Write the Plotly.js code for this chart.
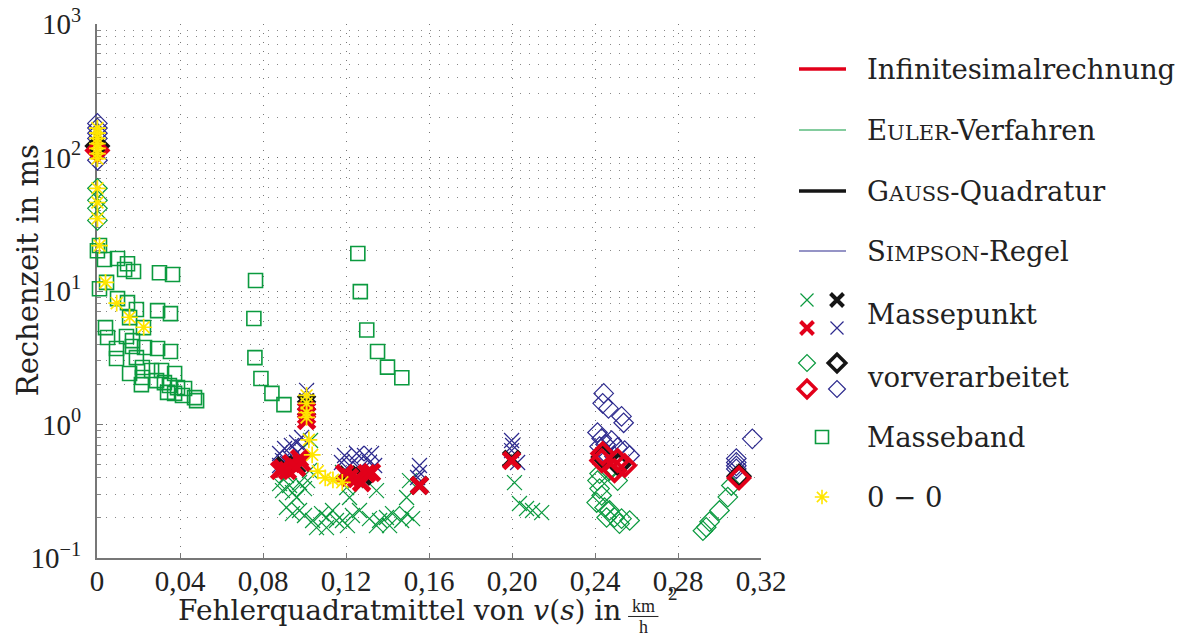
<!DOCTYPE html>
<html>
<head>
<meta charset="utf-8">
<script src="https://cdn.plot.ly/plotly-3.0.1.min.js"></script>
<style>
  html, body { margin: 0; padding: 0; background: #fff; }
  #chart { width: 1183px; height: 639px; }
</style>
</head>
<body>
<div id="chart"></div>
<script>
// ---- axis ticks ----
const xTickVals = [0, 0.04, 0.08, 0.12, 0.16, 0.20, 0.24, 0.28, 0.32];
const xTickText = ['0', '0,04', '0,08', '0,12', '0,16', '0,20', '0,24', '0,28', '0,32'];
const yTickVals = [0.1, 1, 10, 100, 1000];
const yTickText = ['10<sup>−1</sup>', '10<sup>0</sup>', '10<sup>1</sup>', '10<sup>2</sup>', '10<sup>3</sup>'];

// ---- Masseband (Euler) ----
const mbX = [0.0012,0.0002,0.0036,0.0099,0.0147,0.0133,0.0176,0.0301,0.0364,0.0046,0.0012,0.0099,0.0147,0.0190,0.0292,0.0354,0.0157,0.0224,0.0041,0.0051,0.0142,0.0171,0.0094,0.0171,0.0229,0.0292,0.0354,0.0094,0.0190,0.0157,0.0219,0.0263,0.0311,0.0374,0.0219,0.0214,0.0287,0.0325,0.0349,0.0388,0.0422,0.0340,0.0374,0.0412,0.0470,0.0480,
  0.0764,0.0756,0.0761,0.0790,0.0843,0.0901,
  0.1257,0.1269,0.1300,0.1352,0.1400,0.1469];
const mbY = [21.9,20.0,17.2,17.5,16.0,14.5,14.0,13.7,13.3,11.6,10.4,8.77,8.19,7.26,7.13,6.77,6.32,5.32,5.32,4.48,4.56,4.25,3.71,3.84,3.77,3.71,3.52,3.12,3.17,2.41,2.67,2.54,2.54,2.41,2.25,1.99,2.13,2.06,1.96,1.89,1.86,1.74,1.71,1.65,1.59,1.51,
  11.97,6.22,3.17,2.21,1.71,1.41,
  19.1,9.89,5.11,3.52,2.69,2.24];

// ---- Massepunkt ----
const eulerMpX = [0.0880,0.0928,0.0976,0.1015,0.0894,0.0942,0.1000,0.0962,0.1024,0.0913,0.1029,
  0.0913,0.0942,0.0976,0.1000,0.1039,0.1058,0.1082,0.1106,0.1106,0.1135,0.1154,0.1183,0.1207,0.1231,0.1265,0.1313,0.1347,0.1362,0.1395,0.1410,0.1424,0.1468,0.1492,0.1521,
  0.1203,0.1217,0.1246,0.1347,0.1183,
  0.1506,0.1492,
  0.2012,0.2036,0.2070,0.2099,0.2143];
const eulerMpY = [0.361,0.349,0.367,0.380,0.320,0.309,0.331,0.284,0.452,0.415,0.759,
  0.239,0.215,0.227,0.208,0.191,0.169,0.215,0.201,0.169,0.227,0.191,0.191,0.175,0.208,0.227,0.197,0.175,0.191,0.201,0.175,0.215,0.191,0.215,0.197,
  0.337,0.284,0.380,0.320,0.437,
  0.380,0.284,
  0.367,0.256,0.235,0.227,0.219];

const simpsonMpX = [0.0880,0.0904,0.0937,0.0962,0.0986,0.0894,0.0928,0.0966,0.0880,0.0991,0.0918,0.0952,
  0.1010,0.1010,0.1010,0.1010,
  0.1193,0.1241,0.1289,0.1323,0.1217,0.1265,0.1313,0.1338,0.1178,0.1251,
  0.1554,0.1554,0.1545,
  0.1998,0.2003,0.1998,0.2027];
const simpsonMpY = [0.606,0.661,0.696,0.733,0.799,0.537,0.566,0.618,0.493,0.680,0.510,0.493,
  1.80,1.51,1.27,1.07,
  0.586,0.537,0.586,0.606,0.493,0.468,0.519,0.493,0.519,0.606,
  0.493,0.437,0.401,
  0.759,0.696,0.638,0.519];

const gaussMpX = [0.0904,0.0962,0.1010,0.1010,0.1207,0.1280,0.1554,0.1998];
const gaussMpY = [0.490,0.500,1.45,1.33,0.420,0.410,0.350,0.550];

const infMpX = [0.0894,0.0937,0.0976,0.0918,0.0962,0.0986,0.0880,0.1010,0.1010,0.1010,0.1193,0.1251,0.1299,0.1323,0.1217,0.1275,0.1554,0.1998];
const infMpY = [0.468,0.510,0.556,0.452,0.476,0.519,0.452,1.27,1.17,1.07,0.429,0.394,0.429,0.437,0.401,0.367,0.349,0.537];

// ---- vorverarbeitet ----
const eulerVvX = [0.0002,0.0002,0.0002,0.0002,
  0.2422,0.2412,0.2422,0.2432,0.2408,0.2446,0.2470,0.2456,0.2494,0.2528,0.2567,0.2518,0.2470,0.2509,
  0.3057,0.3040,0.3000,0.2952,0.2936,0.2920];
const eulerVvY = [58.8,47.8,41.6,33.8,
  0.429,0.380,0.331,0.294,0.260,0.239,0.227,0.201,0.201,0.197,0.191,0.181,0.452,0.380,
  0.349,0.286,0.227,0.187,0.170,0.160];

const simpsonVvX = [0.0002,0.0002,0.0002,0.0002,0.0002,
  0.2442,0.2437,0.2465,0.2528,0.2538,0.2412,0.2432,0.2451,0.2422,0.2480,0.2509,0.2543,0.2567,0.2446,0.2494,
  0.3158,0.3081,0.3081,0.3081,0.3081];
const simpsonVvY = [180,166,152,139,95.3,
  1.71,1.44,1.32,1.15,1.03,0.871,0.786,0.708,0.684,0.759,0.673,0.638,0.586,0.617,0.576,
  0.781,0.556,0.520,0.490,0.465];

const gaussVvX = [0.0002,0.2440,0.2515,0.3094];
const gaussVvY = [122,0.570,0.500,0.410];

const infVvX = [0.0002,0.2437,0.2432,0.2509,0.2543,0.2494,0.3094];
const infVvY = [113,0.606,0.537,0.537,0.493,0.452,0.398];

// ---- 0 – 0 ----
const zeroX = [0.0002,0.0002,0.0002,0.0002,0.0002,0.0002,0.0002,0.0002,0.0002,0.0002,0.0012,
  0.0041,0.0095,0.0157,0.0225,
  0.1010,0.1010,0.1010,0.1010,
  0.1021,0.1037,0.1064,0.1100,0.1137,0.1182];
const zeroY = [166,152,139,127,117,107,98,58.8,46.0,34.9,21.9,
  11.6,8.1,6.36,5.35,
  1.65,1.44,1.23,1.13,
  0.768,0.593,0.447,0.398,0.385,0.369];

// ---- colours ----
const RED = '#e2001a', GREEN = '#0b9a3f', BLACK = '#151515', NAVY = '#2d2a8e', YELLOW = '#ffe500';

const thinX = (c) => ({ symbol: 'x-thin-open', size: 15, color: c, line: { color: c, width: 1.2 } });
const boldX = (c) => ({ symbol: 'x-thin-open', size: 16, color: c, line: { color: c, width: 5 } });
const thinD = (c) => ({ symbol: 'diamond-open', size: 15, color: c, line: { color: c, width: 1.2 } });
const boldD = (c) => ({ symbol: 'diamond-open', size: 16, color: c, line: { color: c, width: 3.8 } });
const squareM = { symbol: 'square-open', size: 14, color: GREEN, line: { color: GREEN, width: 1.6 } };
const starM = { symbol: 'asterisk-open', size: 14, color: YELLOW, line: { color: YELLOW, width: 1.7 } };

function pts(x, y, marker) {
  return { type: 'scatter', mode: 'markers', x: x, y: y, marker: marker,
           cliponaxis: false, showlegend: false, hoverinfo: 'x+y' };
}

const traces = [
  pts(mbX, mbY, squareM),
  pts(eulerMpX, eulerMpY, thinX(GREEN)),
  pts(eulerVvX, eulerVvY, thinD(GREEN)),
  pts(simpsonVvX, simpsonVvY, thinD(NAVY)),
  pts(simpsonMpX, simpsonMpY, thinX(NAVY)),
  pts(gaussVvX, gaussVvY, boldD(BLACK)),
  pts(gaussMpX, gaussMpY, boldX(BLACK)),
  pts(infVvX, infVvY, boldD(RED)),
  pts(infMpX, infMpY, boldX(RED)),
  pts(zeroX, zeroY, starM)
];

// ---- key (drawn on an auxiliary pixel-scaled axis pair) ----
const keyLabels = ['Infinitesimalrechnung',
  'E<span style="font-size:21px">ULER</span>-Verfahren',
  'G<span style="font-size:21px">AUSS</span>-Quadratur',
  'S<span style="font-size:21px">IMPSON</span>-Regel',
  'Massepunkt', 'vorverarbeitet', 'Masseband', '0 − 0'];
const keyRowY = [69, 130, 191, 251, 314, 377, 437, 497];
const keyLine = [{ c: RED, w: 3.5 }, { c: GREEN, w: 1.2 }, { c: BLACK, w: 3.5 }, { c: NAVY, w: 1.2 }];
const keyX0 = 799, keyX1 = 846, keyColA = 807, keyColB = 837, keyMid = 822, keyText = 865;

const keyThinX = (c) => ({ symbol: 'x-thin-open', size: 13, color: c, line: { color: c, width: 1.2 } });
const keyBoldX = (c) => ({ symbol: 'x-thin-open', size: 13, color: c, line: { color: c, width: 4 } });
const keyThinD = (c) => ({ symbol: 'diamond-open', size: 13, color: c, line: { color: c, width: 1.2 } });
const keyBoldD = (c) => ({ symbol: 'diamond-open', size: 13.5, color: c, line: { color: c, width: 3.5 } });

function keyMark(x, y, marker) {
  return { type: 'scatter', mode: 'markers', x: [x], y: [y], marker: marker,
           xaxis: 'x2', yaxis: 'y2', showlegend: false, hoverinfo: 'skip', cliponaxis: false };
}
keyLine.forEach((s, i) => {
  traces.push({ type: 'scatter', mode: 'lines', x: [keyX0, keyX1], y: [keyRowY[i], keyRowY[i]],
    line: { color: s.c, width: s.w }, xaxis: 'x2', yaxis: 'y2', showlegend: false, hoverinfo: 'skip' });
});
const rm = keyRowY[4], rv = keyRowY[5];
traces.push(keyMark(keyColA, rm - 14, keyThinX(GREEN)));
traces.push(keyMark(keyColB, rm - 14, keyBoldX(BLACK)));
traces.push(keyMark(keyColA, rm + 14, keyBoldX(RED)));
traces.push(keyMark(keyColB, rm + 14, keyThinX(NAVY)));
traces.push(keyMark(keyColA, rv - 14, keyThinD(GREEN)));
traces.push(keyMark(keyColB, rv - 14, keyBoldD(BLACK)));
traces.push(keyMark(keyColA, rv + 12, keyBoldD(RED)));
traces.push(keyMark(keyColB, rv + 12, keyThinD(NAVY)));
traces.push(keyMark(keyMid, keyRowY[6], { symbol: 'square-open', size: 13, color: GREEN, line: { color: GREEN, width: 1.6 } }));
traces.push(keyMark(keyMid, keyRowY[7], { symbol: 'asterisk-open', size: 12, color: YELLOW, line: { color: YELLOW, width: 1.6 } }));

const TEXT_FONT = 'DejaVu Serif';
const NUM_FONT = 'Liberation Serif';
const TXT = '#222';

const annotations = keyLabels.map((t, i) => ({
  xref: 'x2', yref: 'y2', x: keyText, y: keyRowY[i], text: t, showarrow: false,
  xanchor: 'left', yanchor: 'middle', font: { family: TEXT_FONT, size: 27.5, color: TXT }
}));

// axis titles
annotations.push({ xref: 'paper', yref: 'paper', x: -0.064, y: 0.54, text: 'Rechenzeit in ms',
  textangle: -90, showarrow: false, xanchor: 'center', yanchor: 'middle',
  font: { family: TEXT_FONT, size: 29, color: TXT } });
annotations.push({ xref: 'paper', yref: 'paper', x: 0.4845, y: -0.098,
  text: 'Fehlerquadratmittel von <i>v</i>(<i>s</i>) in', showarrow: false,
  xanchor: 'right', yanchor: 'middle', font: { family: TEXT_FONT, size: 28, color: TXT } });
annotations.push({ xref: 'paper', yref: 'paper', x: 0.5028, y: -0.089, text: 'km', showarrow: false,
  xanchor: 'center', yanchor: 'middle', font: { family: NUM_FONT, size: 18, color: TXT } });
annotations.push({ xref: 'paper', yref: 'paper', x: 0.5028, y: -0.130, text: 'h', showarrow: false,
  xanchor: 'center', yanchor: 'middle', font: { family: NUM_FONT, size: 18, color: TXT } });
annotations.push({ xref: 'paper', yref: 'paper', x: 0.5305, y: -0.066, text: '2', showarrow: false,
  xanchor: 'center', yanchor: 'middle', font: { family: NUM_FONT, size: 19, color: TXT } });

const shapes = [{ type: 'line', xref: 'paper', yref: 'paper', x0: 0.489, x1: 0.517, y0: -0.1095, y1: -0.1095,
  line: { color: TXT, width: 1 } }];

const minorY = [];
[0.1, 1, 10, 100].forEach(d => { for (let k = 2; k <= 9; k++) minorY.push(+(d * k).toPrecision(3)); });

const layout = {
  width: 1183, height: 639,
  margin: { l: 97, r: 0, t: 24, b: 81 },
  paper_bgcolor: '#fff', plot_bgcolor: 'rgba(0,0,0,0)',
  showlegend: false,
  xaxis: {
    domain: [0, 664 / 1086], range: [0, 0.32], tickmode: 'array', tickvals: xTickVals, ticktext: xTickText,
    showgrid: true, gridcolor: '#777', griddash: '1px,8px', gridwidth: 1,
    zeroline: false, showline: true, linecolor: '#777', linewidth: 1.5,
    ticks: 'inside', ticklen: 5, tickcolor: '#777', layer: 'below traces',
    tickfont: { family: NUM_FONT, size: 29, color: TXT }, ticklabelstandoff: -3
  },
  yaxis: {
    type: 'log', range: [-1, 3], tickmode: 'array', tickvals: yTickVals, ticktext: yTickText,
    showgrid: true, gridcolor: '#666', griddash: '1px,8px', gridwidth: 1,
    minor: { tickmode: 'array', tickvals: minorY, showgrid: true, gridcolor: '#888', griddash: '1px,8px',
             ticks: 'inside', ticklen: 4, tickcolor: '#888' },
    zeroline: false, showline: true, linecolor: '#777', linewidth: 2,
    ticks: 'inside', ticklen: 6, tickcolor: '#777', layer: 'below traces',
    tickfont: { family: NUM_FONT, size: 29, color: TXT }, ticklabelstandoff: 8
  },
  xaxis2: { domain: [(790 - 97) / 1086, 1], range: [790, 1183], visible: false, anchor: 'y2', fixedrange: true },
  yaxis2: { domain: [0, 1], range: [558, 24], visible: false, anchor: 'x2', fixedrange: true },
  annotations: annotations,
  shapes: shapes
};

Plotly.newPlot('chart', traces, layout, { displayModeBar: false, staticPlot: true });
</script>
</body>
</html>
